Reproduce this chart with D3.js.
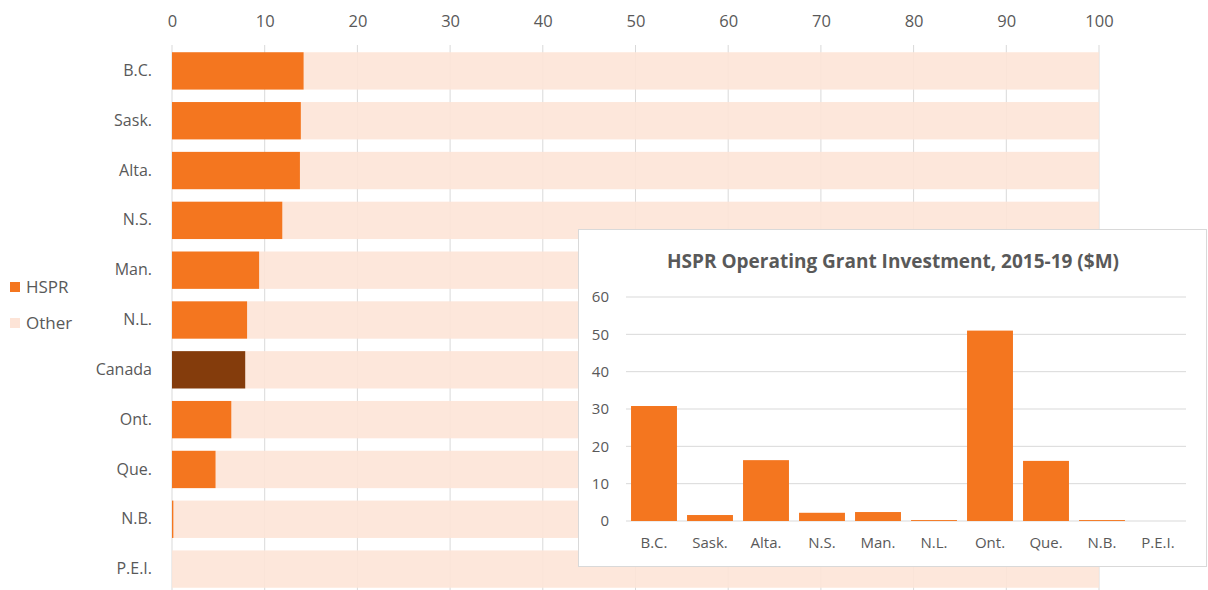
<!DOCTYPE html>
<html>
<head>
<meta charset="utf-8">
<script src="https://cdn.jsdelivr.net/npm/d3@7"></script>
<style>
  html, body { margin: 0; padding: 0; background: #fff; }
  svg { display: block; font-family: "Open Sans", "Noto Sans", sans-serif; }
</style>
</head>
<body>
<svg id="chart" width="1208" height="590"></svg>
<script>
// Share of operating grants going to HSPR, by province (%)
const provinces = ["B.C.", "Sask.", "Alta.", "N.S.", "Man.", "N.L.", "Canada", "Ont.", "Que.", "N.B.", "P.E.I."];
const hsprShare = [14.2, 13.9, 13.8, 11.9, 9.4, 8.1, 7.9, 6.4, 4.7, 0.15, 0];
const shareTicks = [0, 10, 20, 30, 40, 50, 60, 70, 80, 90, 100];

// HSPR operating grant investment, 2015-19 ($M)
const insetProvinces = ["B.C.", "Sask.", "Alta.", "N.S.", "Man.", "N.L.", "Ont.", "Que.", "N.B.", "P.E.I."];
const insetValues = [30.8, 1.6, 16.3, 2.2, 2.4, 0.25, 51.0, 16.1, 0.25, 0];
const insetTicks = [0, 10, 20, 30, 40, 50, 60];

const legendItems = ["HSPR", "Other"];

const ORANGE = "#F4761F";
const DARK = "#843C0C";
const PEACH = "#FDE4D7";
const GRID = "#D9D9D9";
const TEXT = "#595959";
const FONT = "'Open Sans', sans-serif";

const svg = d3.select("#chart");

// ---------- main stacked bar chart ----------
const x = d3.scaleLinear().domain([0, 100]).range([172, 1099]);
const y = d3.scaleBand().domain(provinces).range([46, 594]).paddingInner(0.25).paddingOuter(0.125);

// vertical gridlines
svg.append("g").selectAll("line").data(shareTicks).join("line")
  .attr("x1", d => x(d)).attr("x2", d => x(d))
  .attr("y1", 45).attr("y2", 594)
  .attr("stroke", GRID).attr("stroke-width", 1);

// top axis labels
const topAxis = svg.append("g").attr("transform", "translate(0,27)")
  .call(d3.axisTop(x).tickValues(shareTicks).tickSize(0).tickPadding(0));
topAxis.select(".domain").remove();
topAxis.selectAll("text").attr("fill", TEXT).attr("font-size", 16.5)
  .attr("font-family", FONT);

// "Other" remainder bars
svg.append("g").selectAll("rect").data(provinces).join("rect")
  .attr("x", (d, i) => x(hsprShare[i]))
  .attr("width", (d, i) => x(100) - x(hsprShare[i]))
  .attr("y", d => y(d)).attr("height", y.bandwidth())
  .attr("fill", PEACH).attr("fill-opacity", 0.9);

// HSPR share bars
svg.append("g").selectAll("rect").data(provinces).join("rect")
  .attr("x", x(0))
  .attr("width", (d, i) => x(hsprShare[i]) - x(0))
  .attr("y", d => y(d)).attr("height", y.bandwidth())
  .attr("fill", d => d === "Canada" ? DARK : ORANGE);

// category labels
const leftAxis = svg.append("g").attr("transform", "translate(152,0)")
  .call(d3.axisLeft(y).tickSize(0).tickPadding(0));
leftAxis.select(".domain").remove();
leftAxis.selectAll("text").attr("fill", TEXT).attr("font-size", 16)
  .attr("font-family", FONT);

// legend
const legend = svg.append("g").selectAll("g").data(legendItems).join("g")
  .attr("transform", (d, i) => `translate(10,${287 + i * 36})`);
legend.append("rect").attr("x", 0).attr("y", -5).attr("width", 10).attr("height", 10)
  .attr("fill", (d, i) => i === 0 ? ORANGE : PEACH);
legend.append("text").attr("x", 16).attr("dy", "0.35em")
  .attr("font-size", 17).attr("fill", TEXT).text(d => d);

// ---------- inset column chart ----------
const inset = svg.append("g");
inset.append("rect")
  .attr("x", 578.5).attr("y", 229.5).attr("width", 628).attr("height", 337)
  .attr("fill", "#fff").attr("stroke", GRID).attr("stroke-width", 1);

inset.append("text")
  .attr("x", 893).attr("y", 268).attr("text-anchor", "middle")
  .attr("font-size", 19).attr("font-weight", "bold").attr("fill", TEXT)
  .text("HSPR Operating Grant Investment, 2015-19 ($M)");

const ix = d3.scaleBand().domain(insetProvinces).range([626, 1186]).paddingInner(0.18).paddingOuter(0.09);
const iy = d3.scaleLinear().domain([0, 60]).range([521, 297]);

inset.append("g").selectAll("line").data(insetTicks).join("line")
  .attr("x1", 626).attr("x2", 1186)
  .attr("y1", d => iy(d)).attr("y2", d => iy(d))
  .attr("stroke", GRID).attr("stroke-width", 1);

const iyAxis = inset.append("g").attr("transform", "translate(609,0)")
  .call(d3.axisLeft(iy).tickValues(insetTicks).tickSize(0).tickPadding(0));
iyAxis.select(".domain").remove();
iyAxis.selectAll("text").attr("fill", TEXT).attr("font-size", 15)
  .attr("font-family", FONT);

inset.append("g").selectAll("rect").data(insetProvinces).join("rect")
  .attr("x", d => ix(d)).attr("width", ix.bandwidth())
  .attr("y", (d, i) => iy(insetValues[i]))
  .attr("height", (d, i) => iy(0) - iy(insetValues[i]))
  .attr("fill", ORANGE);

const ixAxis = inset.append("g").attr("transform", "translate(0,537)")
  .call(d3.axisBottom(ix).tickSize(0).tickPadding(0));
ixAxis.select(".domain").remove();
ixAxis.selectAll("text").attr("fill", TEXT).attr("font-size", 15)
  .attr("font-family", FONT);
</script>
</body>
</html>
